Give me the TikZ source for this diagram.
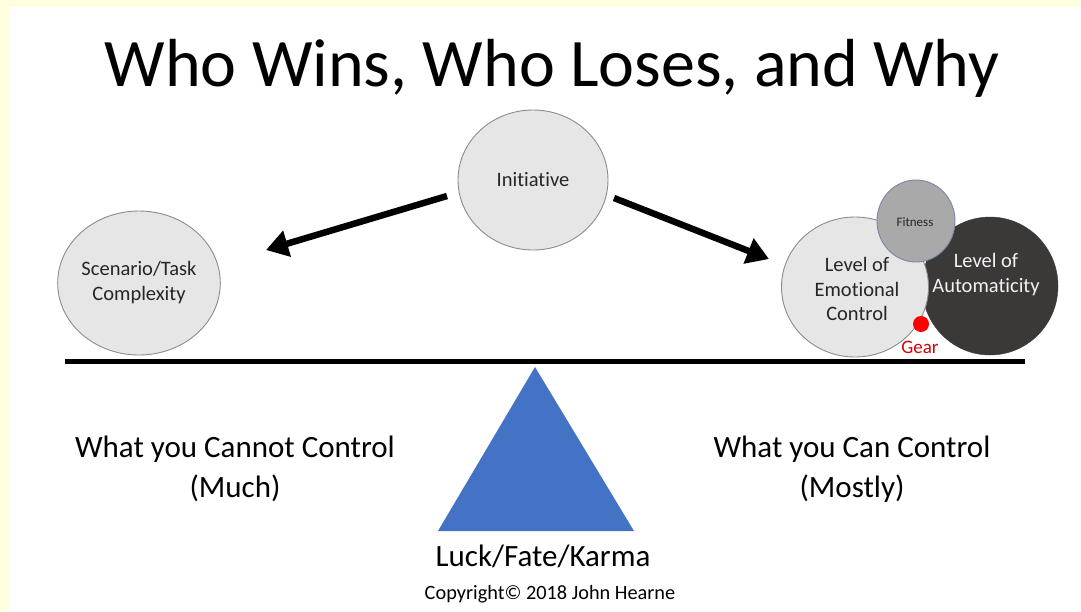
\documentclass[tikz,border=0pt]{standalone}
\usepackage{fontspec}
\setmainfont[Ligatures={NoCommon}]{Carlito}
\usetikzlibrary{arrows.meta,shapes.geometric}
\definecolor{bgyel}{HTML}{FFFFE0}
\definecolor{cfill}{HTML}{E7E6E6}
\definecolor{cline}{HTML}{8C8C8C}
\definecolor{darkc}{HTML}{3B3838}
\definecolor{fitfill}{HTML}{A9A9A9}
\definecolor{fitline}{HTML}{7A86A6}
\definecolor{tri}{HTML}{4472C4}
\definecolor{txt}{HTML}{262626}
\tikzset{
  bubble/.style={ellipse, draw=cline, line width=0.9pt, fill=cfill, inner sep=0pt, text=txt, align=center},
  bigtxt/.style={font=\fontsize{31}{40}\selectfont, align=center, text=black},
  arr/.style={line width=6.5pt, -{Triangle[length=22pt,width=26pt]}},
}
\begin{document}
\begin{tikzpicture}[x=1pt,y=-1pt]
\useasboundingbox (0,0) rectangle (1081,611);
\fill[bgyel] (0,0) rectangle (1081,611);
\fill[white] (10,7) rectangle (1081,611);
% title
\node[font=\fontsize{68}{74}\selectfont] (title) at (552,68) {Who Wins, Who Loses, and Why};
% bubbles
\node[bubble, minimum width=150pt, minimum height=140pt, font=\fontsize{20.5}{25}\selectfont] (init) at (533,180) {Initiative};
\node[bubble, minimum width=148pt, minimum height=144pt, font=\fontsize{20.5}{25}\selectfont] (scen) at (139,283) {Scenario/Task\\Complexity};
\node[ellipse, draw=darkc, fill=darkc, minimum width=136pt, minimum height=138pt, inner sep=0pt] (auto) at (990,286) {};
\node[text=white!95!black, font=\fontsize{20.5}{25}\selectfont, align=center] (autot) at (986,275) {Level of\\Automaticity};
\node[bubble, minimum width=147pt, minimum height=140pt] (emo) at (855,287) {};
\node[text=txt, font=\fontsize{20.5}{24.5}\selectfont, align=center] (emot) at (857,289) {Level of\\Emotional\\Control};
\node[ellipse, draw=fitline, line width=0.9pt, fill=fitfill, minimum width=78pt, minimum height=82pt, inner sep=0pt] (fit) at (916,221) {};
\node[text=txt, font=\fontsize{13}{15}\selectfont] (fitt) at (915,222) {Fitness};
\node[circle, fill=red, minimum size=16pt, inner sep=0pt] (gear) at (921,324) {};
\node[text=red!85!black, font=\fontsize{19}{22}\selectfont] (gearl) at (920,347) {Gear};
% beam
\coordinate (bl) at (65,361);
\coordinate (br) at (1025,361);
\draw[line width=5pt] (bl) -- (br);
% fulcrum
\coordinate (ta) at (535,367);
\coordinate (tb) at (438,531);
\coordinate (tc) at (634,531);
\fill[tri] (ta) -- (tb) -- (tc) -- cycle;
% arrows
\coordinate (a1s) at (447,196);
\coordinate (a1e) at (266,250);
\coordinate (a2s) at (614,198);
\coordinate (a2e) at (769,259);
\draw[arr] (a1s) -- (a1e);
\draw[arr] (a2s) -- (a2e);
% texts
\node[bigtxt] (cannot) at (235,469) {What you Cannot Control\\(Much)};
\node[bigtxt] (can) at (852,469) {What you Can Control\\(Mostly)};
\node[font=\fontsize{31}{36}\selectfont] (luck) at (543,556) {Luck/Fate/Karma};
\node[font=\fontsize{20.3}{24}\selectfont] (copy) at (550,594) {Copyright© 2018 John Hearne};
\end{tikzpicture}
\end{document}
